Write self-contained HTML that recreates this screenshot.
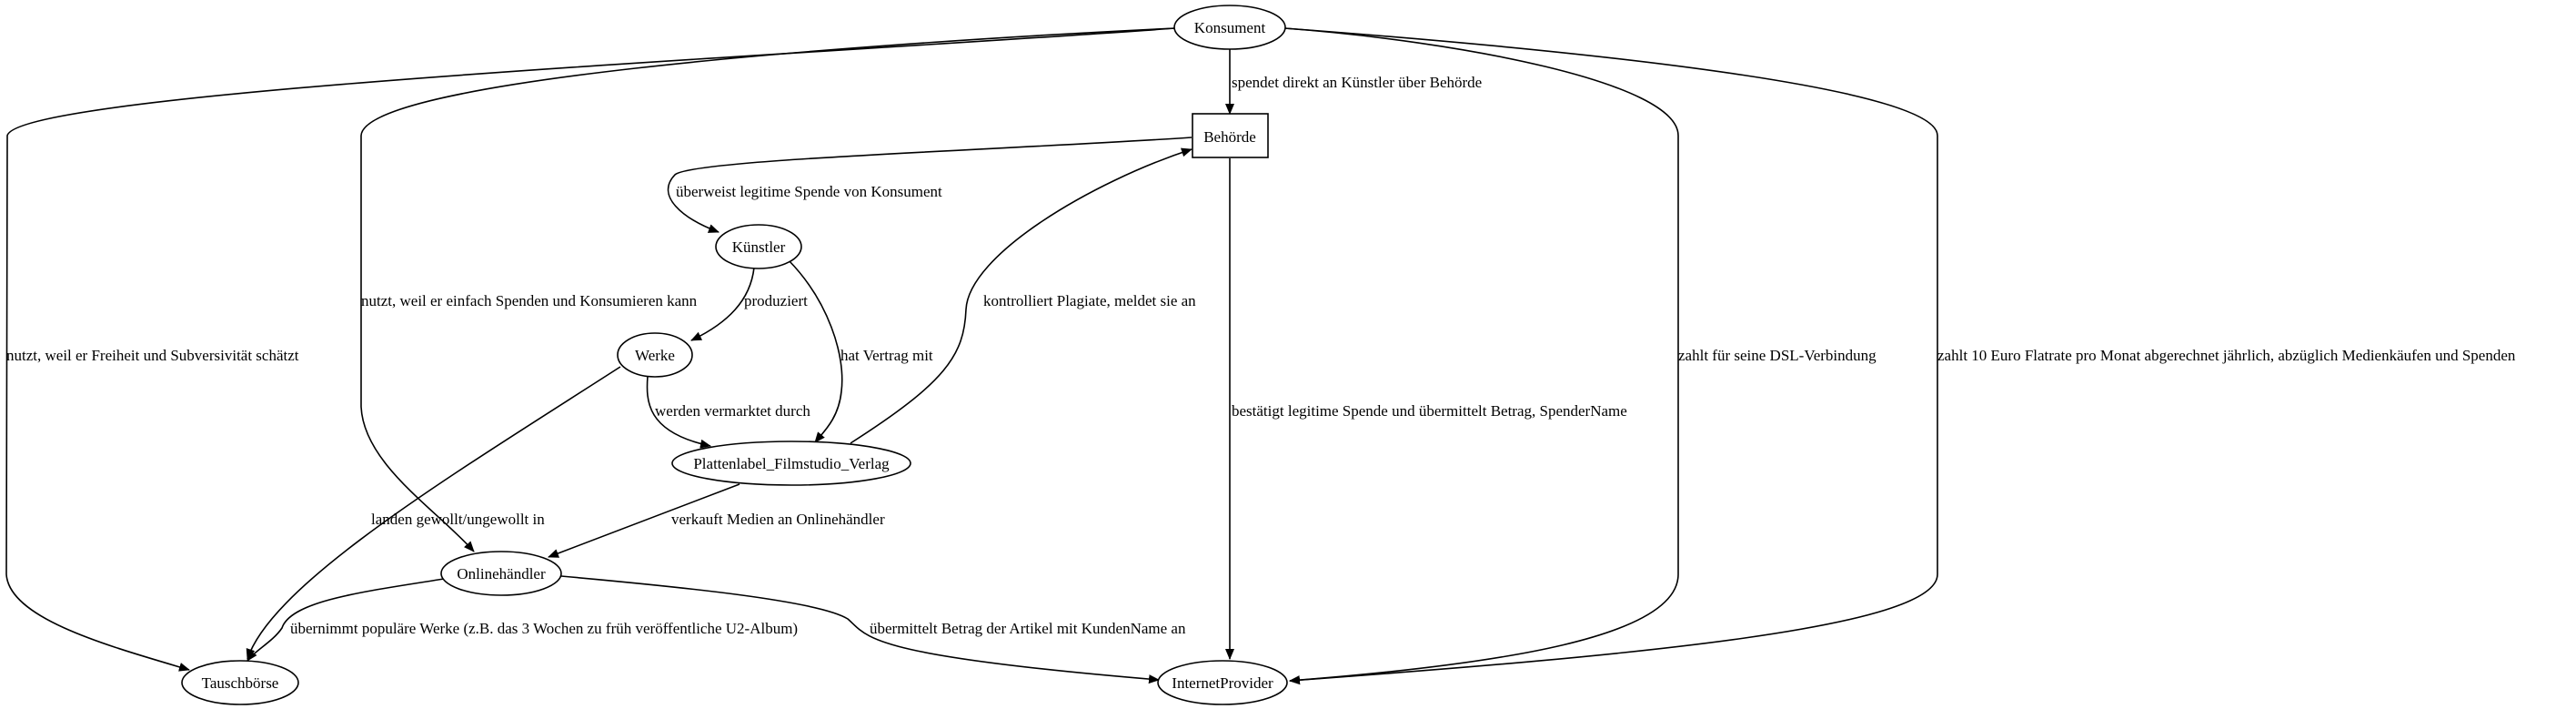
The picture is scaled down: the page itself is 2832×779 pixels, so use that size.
<!DOCTYPE html>
<html><head><meta charset="utf-8"><style>
html,body{margin:0;padding:0;background:#fff;}
svg{display:block;}
text{font-family:"Liberation Serif",serif;font-size:17px;fill:#000;}
</style></head><body>
<svg width="2832" height="779" viewBox="0 0 2832 779" xmlns="http://www.w3.org/2000/svg">
<defs>
<marker id="a" markerWidth="12" markerHeight="10" refX="11" refY="5" orient="auto" markerUnits="userSpaceOnUse">
<path d="M0,0 L12,5 L0,10 Z" fill="#000"/>
</marker>
</defs>
<g fill="none" stroke="#000" stroke-width="1.6">
<!-- Konsument -> Tauschbörse -->
<path d="M1292,31 C900,60 20,100 8,149 L7,631 C10,680 120,710 208,736" marker-end="url(#a)"/>
<!-- Konsument -> Onlinehändler -->
<path d="M1292,31 C900,50 400,90 397,149 L397,447 C400,510 480,560 521,606" marker-end="url(#a)"/>
<!-- Konsument -> Behörde -->
<path d="M1352,53 L1352,125" marker-end="url(#a)"/>
<!-- Konsument -> InternetProvider DSL -->
<path d="M1412,31 C1600,45 1845,90 1845,149 L1845,631 C1845,700 1650,730 1418,748" marker-end="url(#a)"/>
<!-- Konsument -> InternetProvider Flatrate -->
<path d="M1412,31 C1800,60 2130,100 2130,149 L2130,631 C2130,690 1800,720 1418,748" marker-end="url(#a)"/>
<!-- Behörde -> Künstler -->
<path d="M1310,151 C1100,165 760,175 742,192 C720,215 750,240 790,255" marker-end="url(#a)"/>
<!-- Behörde -> InternetProvider -->
<path d="M1352,174 L1352,724" marker-end="url(#a)"/>
<!-- Künstler -> Werke -->
<path d="M829,294 C825,330 800,355 760,374" marker-end="url(#a)"/>
<!-- Künstler -> Plattenlabel -->
<path d="M867,286 C910,330 930,390 925,430 C922,460 905,475 896,486" marker-end="url(#a)"/>
<!-- Werke -> Plattenlabel -->
<path d="M712,413 C710,440 710,475 781,490" marker-end="url(#a)"/>
<!-- Plattenlabel -> Behörde -->
<path d="M935,487 C1040,420 1060,390 1062,340 C1065,280 1200,200 1310,164" marker-end="url(#a)"/>
<!-- Werke -> Tauschbörse -->
<path d="M682,403 C500,520 300,640 272,724" marker-end="url(#a)"/>
<!-- Plattenlabel -> Onlinehändler -->
<path d="M813,532 L603,612" marker-end="url(#a)"/>
<!-- Onlinehändler -> Tauschbörse -->
<path d="M488,636 C400,650 320,660 310,690 C300,705 280,715 272,726" marker-end="url(#a)"/>
<!-- Onlinehändler -> InternetProvider -->
<path d="M617,633 C750,645 900,660 932,680 C955,700 950,720 1274,747" marker-end="url(#a)"/>
</g>
<g fill="#fff" stroke="#000" stroke-width="1.6">
<ellipse cx="1352" cy="30" rx="61" ry="24"/>
<rect x="1311" y="125" width="83" height="48"/>
<ellipse cx="834" cy="271" rx="47" ry="24"/>
<ellipse cx="720" cy="390" rx="41" ry="24"/>
<ellipse cx="870" cy="509" rx="131" ry="24"/>
<ellipse cx="551" cy="630" rx="66" ry="24"/>
<ellipse cx="264" cy="750" rx="64" ry="24"/>
<ellipse cx="1344" cy="750" rx="71" ry="24"/>
</g>
<g text-anchor="middle">
<text x="1352" y="36">Konsument</text>
<text x="1352" y="156">Behörde</text>
<text x="834" y="277">Künstler</text>
<text x="720" y="396">Werke</text>
<text x="870" y="515">Plattenlabel_Filmstudio_Verlag</text>
<text x="551" y="636">Onlinehändler</text>
<text x="264" y="756">Tauschbörse</text>
<text x="1344" y="756">InternetProvider</text>
</g>
<g>
<text x="1354" y="96">spendet direkt an Künstler über Behörde</text>
<text x="743" y="216">überweist legitime Spende von Konsument</text>
<text x="397" y="336">nutzt, weil er einfach Spenden und Konsumieren kann</text>
<text x="818" y="336">produziert</text>
<text x="1081" y="336">kontrolliert Plagiate, meldet sie an</text>
<text x="7" y="396">nutzt, weil er Freiheit und Subversivität schätzt</text>
<text x="924" y="396">hat Vertrag mit</text>
<text x="1845" y="396">zahlt für seine DSL-Verbindung</text>
<text x="2130" y="396">zahlt 10 Euro Flatrate pro Monat abgerechnet jährlich, abzüglich Medienkäufen und Spenden</text>
<text x="720" y="457">werden vermarktet durch</text>
<text x="1354" y="457">bestätigt legitime Spende und übermittelt Betrag, SpenderName</text>
<text x="408" y="576">landen gewollt/ungewollt in</text>
<text x="738" y="576">verkauft Medien an Onlinehändler</text>
<text x="319" y="696">übernimmt populäre Werke (z.B. das 3 Wochen zu früh veröffentliche U2-Album)</text>
<text x="956" y="696">übermittelt Betrag der Artikel mit KundenName an</text>
</g>
</svg>
</body></html>
